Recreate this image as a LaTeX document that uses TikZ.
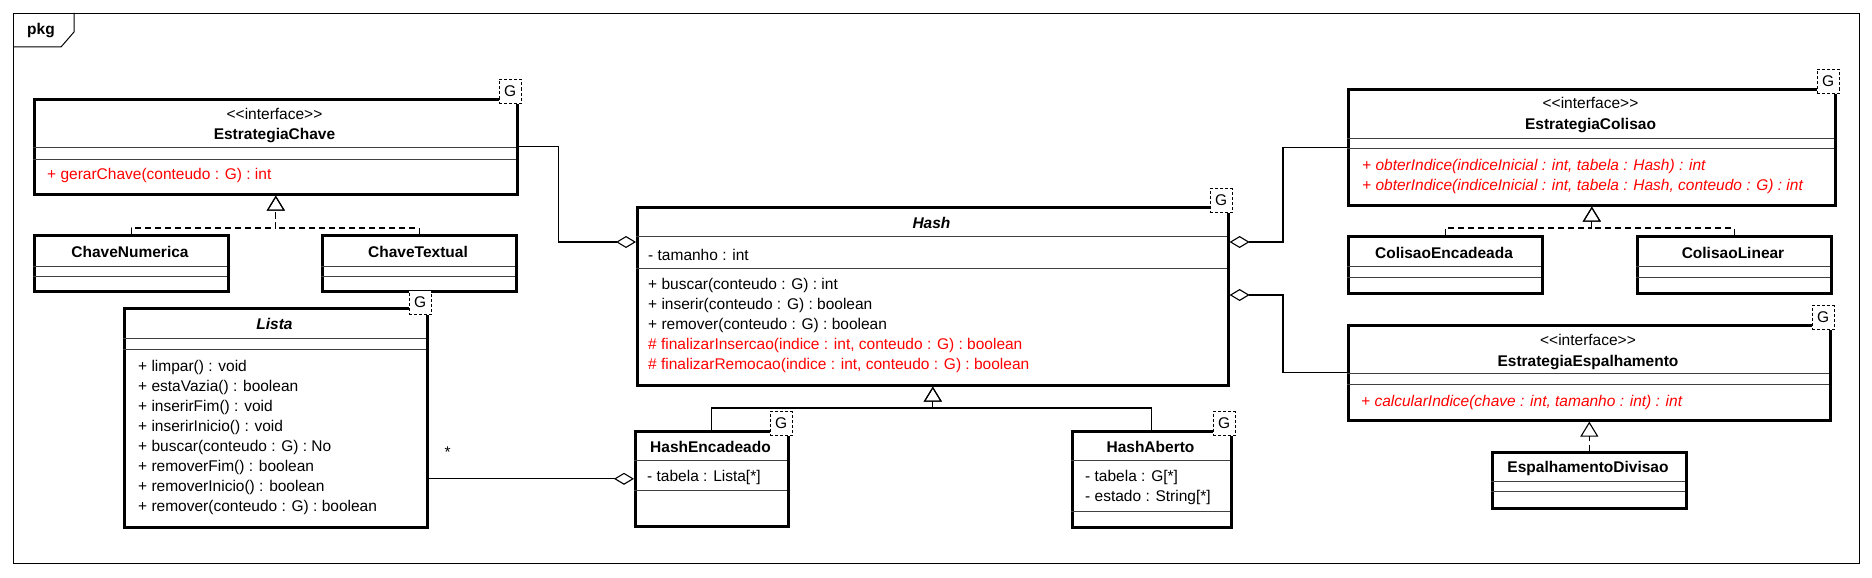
\documentclass[tikz,border=0pt]{standalone}
\usepackage{fontspec}
\setmainfont{Liberation Sans}
\usetikzlibrary{arrows.meta}
\newcommand{\umlsize}{\fontsize{15.5pt}{20pt}\selectfont}
\tikzstyle{umlclass} = [rectangle, draw=black, line width=2.6pt, anchor=north west, inner sep=0pt, fill=white]
\tikzstyle{tparam} = [rectangle, draw=black, fill=white, dash pattern=on 3pt off 2pt, line width=1pt,
minimum width=22pt, minimum height=24pt, inner sep=0pt, anchor=south east]
\tikzstyle{sep} = [line width=1pt, draw=black!75]
\tikzstyle{txt} = [inner sep=0pt, text height=12pt, text depth=2pt]
\tikzstyle{cname} = [txt, font=\umlsize\bfseries]
\tikzstyle{member} = [inner sep=0pt, anchor=west, align=left]
\tikzstyle{absop} = [member, text=red, font=\umlsize\itshape]
\tikzstyle{aggr} = [line width=1.1pt, {Diamond[open, length=20pt, width=12pt]}-]
\tikzstyle{gen} = [line width=1.1pt, -{Triangle[open, length=15pt, width=18pt]}]
\tikzstyle{real} = [gen, dash pattern=on 6pt off 4pt]

\begin{document}
\begin{tikzpicture}[x=1pt, y=-1pt, font=\umlsize]
\useasboundingbox (0,0) rectangle (1872,578);

\node (frame) [draw, line width=1pt, anchor=north west, minimum width=1846pt, minimum height=550pt, inner sep=0pt] at (13,13) {};
\draw [line width=1pt] (13,47) -- (61,47) -- (74,32) -- (74,13);
\node (pkg) [cname] at (41,30) {pkg};

\node (chave) [umlclass, minimum width=483pt, minimum height=95pt] at (33,98) {};
\node (numerica) [umlclass, minimum width=194pt, minimum height=56pt] at (33,234) {};
\node (textual) [umlclass, minimum width=194pt, minimum height=56pt] at (321,234) {};
\node (lista) [umlclass, minimum width=303pt, minimum height=219pt] at (123,307) {};
\node (hash) [umlclass, minimum width=591pt, minimum height=178pt] at (636,206) {};
\node (encad) [umlclass, minimum width=153pt, minimum height=95pt] at (634,430) {};
\node (aberto) [umlclass, minimum width=159pt, minimum height=96pt] at (1071,430) {};
\node (colisao) [umlclass, minimum width=487pt, minimum height=116pt] at (1347,88) {};
\node (colenc) [umlclass, minimum width=194pt, minimum height=57pt] at (1347,235) {};
\node (collin) [umlclass, minimum width=194pt, minimum height=57pt] at (1636,235) {};
\node (espalh) [umlclass, minimum width=482pt, minimum height=95pt] at (1347,324) {};
\node (divisao) [umlclass, minimum width=194pt, minimum height=56pt] at (1491,451) {};

\draw [sep] (33,147) -- (516,147);
\draw [sep] (33,159) -- (516,159);
\draw [sep] (33,266) -- (227,266);
\draw [sep] (33,276) -- (227,276);
\draw [sep] (321,266) -- (515,266);
\draw [sep] (321,276) -- (515,276);
\draw [sep] (123,338) -- (426,338);
\draw [sep] (123,349) -- (426,349);
\draw [sep] (636,236) -- (1227,236);
\draw [sep] (636,268) -- (1227,268);
\draw [sep] (634,460) -- (787,460);
\draw [sep] (634,490) -- (787,490);
\draw [sep] (1071,460) -- (1230,460);
\draw [sep] (1071,511) -- (1230,511);
\draw [sep] (1347,138) -- (1834,138);
\draw [sep] (1347,148) -- (1834,148);
\draw [sep] (1347,266) -- (1541,266);
\draw [sep] (1347,277) -- (1541,277);
\draw [sep] (1636,266) -- (1830,266);
\draw [sep] (1636,277) -- (1830,277);
\draw [sep] (1347,373) -- (1829,373);
\draw [sep] (1347,384) -- (1829,384);
\draw [sep] (1491,481) -- (1685,481);
\draw [sep] (1491,491) -- (1685,491);

\node (chavest) [txt] at (274.5,114) {<\kern0pt<interface>\kern0pt>};
\node (chavenm) [cname] at (274.5,134) {EstrategiaChave};
\node (chaveop) [member, text=red] at (47,175) {+ gerarChave(conteudo : G) : int};
\node (numnm) [cname] at (130,252) {ChaveNumerica};
\node (textnm) [cname] at (418,252) {ChaveTextual};
\node (listanm) [cname, font=\umlsize\bfseries\itshape] at (274.5,324) {Lista};
\node (listaop) [member] at (138,437) {+ limpar() : void\\ + estaVazia() : boolean\\ + inserirFim() : void\\
+ inserirInicio() : void\\ + buscar(conteudo : G) : No\\ + removerFim() : boolean\\
+ removerInicio() : boolean\\ + remover(conteudo : G) : boolean};
\node (hashnm) [cname, font=\umlsize\bfseries\itshape] at (931.5,223) {Hash};
\node (hashat) [member] at (648,255) {- tamanho : int};
\node (hashop) [member] at (648,325.5) {+ buscar(conteudo : G) : int\\ + inserir(conteudo : G) : boolean\\
+ remover(conteudo : G) : boolean\\ \textcolor{red}{\# finalizarInsercao(indice : int, conteudo : G) : boolean}\\
\textcolor{red}{\# finalizarRemocao(indice : int, conteudo : G) : boolean}};
\node (encadnm) [cname] at (710.5,447) {HashEncadeado};
\node (encadat) [member] at (647,477) {- tabela : Lista[*]};
\node (abertonm) [cname] at (1150.5,447) {HashAberto};
\node (abertoat) [member] at (1085,487) {- tabela : G[*]\\ - estado : String[*]};
\node (colst) [txt] at (1590.5,103) {<\kern0pt<interface>\kern0pt>};
\node (colnm) [cname] at (1590.5,124) {EstrategiaColisao};
\node (colop) [absop] at (1362,176) {+ obterIndice(indiceInicial : int, tabela : Hash) : int\\
+ obterIndice(indiceInicial : int, tabela : Hash, conteudo : G) : int};
\node (colencnm) [cname] at (1444,253) {ColisaoEncadeada};
\node (collinnm) [cname] at (1733,253) {ColisaoLinear};
\node (espst) [txt] at (1588,340) {<\kern0pt<interface>\kern0pt>};
\node (espnm) [cname] at (1588,361) {EstrategiaEspalhamento};
\node (espop) [absop] at (1361,402) {+ calcularIndice(chave : int, tamanho : int) : int};
\node (divnm) [cname] at (1588,467) {EspalhamentoDivisao};

\node (gchave) [tparam] at ([xshift=3pt, yshift=-6pt]chave.north east) {G};
\node (glista) [tparam] at ([xshift=3pt, yshift=-8pt]lista.north east) {G};
\node (ghash) [tparam] at ([xshift=3pt, yshift=-7pt]hash.north east) {G};
\node (gencad) [tparam] at ([xshift=3pt, yshift=-6pt]encad.north east) {G};
\node (gaberto) [tparam] at ([xshift=3pt, yshift=-6pt]aberto.north east) {G};
\node (gcol) [tparam] at ([xshift=3pt, yshift=-6pt]colisao.north east) {G};
\node (gesp) [tparam] at ([xshift=3pt, yshift=-6pt]espalh.north east) {G};

\draw [aggr] ([yshift=-36pt]hash.north west) -| ([xshift=40pt]chave.east) -- (chave.east);
\draw [aggr] ([yshift=-36pt]hash.north east) -| ([xshift=-64pt]colisao.west) -- (colisao.west);
\draw [aggr] ([yshift=-89pt]hash.north east) -| ([xshift=-64pt]espalh.west) -- (espalh.west);
\draw [aggr] (encad.west) -- (encad.west -| lista.east) node (mstar) [pos=1, xshift=19pt, yshift=27pt] {*};
\draw [gen] (encad.north) -- ++(0,-22) -| (hash.south);
\draw [gen] (aberto.north) -- ++(0,-22) -| (hash.south);
\draw [real] (numerica.north) -- ++(0,-6) -| (chave.south);
\draw [real] (textual.north) -- ++(0,-6) -| (chave.south);
\draw [real] (colenc.north) -- ++(0,-7) -| (colisao.south);
\draw [real] (collin.north) -- ++(0,-7) -| (colisao.south);
\draw [real] (divisao.north) -- (espalh.south);

\end{tikzpicture}
\end{document}
